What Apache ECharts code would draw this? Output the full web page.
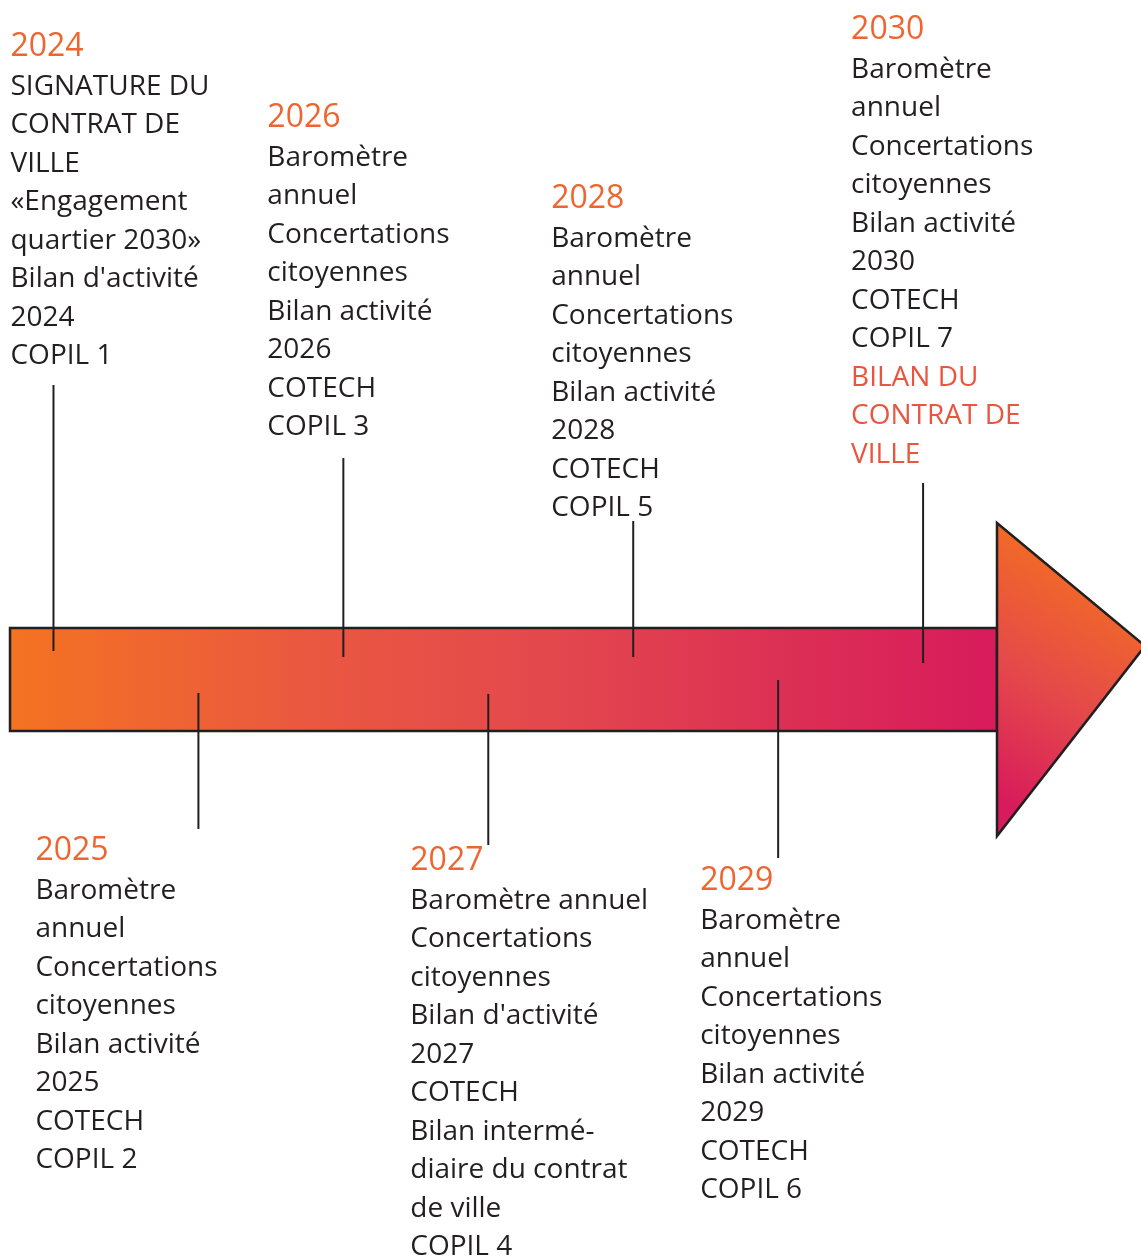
<!DOCTYPE html>
<html>
<head>
<meta charset="utf-8">
<script src="https://cdn.jsdelivr.net/npm/echarts@6/dist/echarts.min.js"></script>
<style>html,body{margin:0;padding:0;background:#ffffff}#chart{width:1141px;height:1256px}</style>
</head>
<body>
<div id="chart"></div>
<script>
// ---------- DATA ----------
const years = [2024, 2025, 2026, 2027, 2028, 2029, 2030];
const items2024 = ['SIGNATURE DU', 'CONTRAT DE', 'VILLE', '«Engagement', 'quartier 2030»', "Bilan d'activité", '2024', 'COPIL 1'];
const items2025 = ['Baromètre', 'annuel', 'Concertations', 'citoyennes', 'Bilan activité', '2025', 'COTECH', 'COPIL 2'];
const items2026 = ['Baromètre', 'annuel', 'Concertations', 'citoyennes', 'Bilan activité', '2026', 'COTECH', 'COPIL 3'];
const items2027 = ['Baromètre annuel', 'Concertations', 'citoyennes', "Bilan d'activité", '2027', 'COTECH', 'Bilan intermé-', 'diaire du contrat', 'de ville', 'COPIL 4'];
const items2028 = ['Baromètre', 'annuel', 'Concertations', 'citoyennes', 'Bilan activité', '2028', 'COTECH', 'COPIL 5'];
const items2029 = ['Baromètre', 'annuel', 'Concertations', 'citoyennes', 'Bilan activité', '2029', 'COTECH', 'COPIL 6'];
const items2030 = ['Baromètre', 'annuel', 'Concertations', 'citoyennes', 'Bilan activité', '2030', 'COTECH', 'COPIL 7'];
const highlight2030 = ['BILAN DU', 'CONTRAT DE', 'VILLE'];

const itemsByYear = [items2024, items2025, items2026, items2027, items2028, items2029, items2030];
const highlightsByYear = [[], [], [], [], [], [], highlight2030];

// ---------- LAYOUT / STYLE (not data) ----------
const FONT = '"Open Sans", "Noto Sans", sans-serif';
const COLORS = { text: '#231f20', year: '#ee6530', highlight: '#e9553f', stroke: '#231f20' };
const LAYOUT = {
  textDx:   [-43, -163, -76, -78, -82, -78, -72],     // text block left offset from its year anchor
  titleY:   [47, 851, 118, 861, 199, 881, 30],         // centre of the year title line
  leader:   [[385, 651], [693, 829], [458, 657], [694, 845], [521, 657], [680, 858], [483, 663]],
  titleGap: 40, lineGap: 38.5, bodySize: 28, titleSize: 32
};

const chart = echarts.init(document.getElementById('chart'), null, { renderer: 'canvas' });

function renderArrow(params, api) {
  const cs = params.coordSys;
  const barGrad = new echarts.graphic.LinearGradient(0, 0, 1, 0, [
    { offset: 0, color: '#f47321' },
    { offset: 0.3, color: '#ea5840' },
    { offset: 0.55, color: '#e3484d' },
    { offset: 0.8, color: '#dc2e55' },
    { offset: 1, color: '#d81b5c' }
  ]);
  const headGrad = new echarts.graphic.LinearGradient(0.9, 0.25, 0.1, 0.9, [
    { offset: 0, color: '#f26a27' },
    { offset: 0.5, color: '#e4494a' },
    { offset: 1, color: '#d81b5c' }
  ]);
  const right = cs.x + cs.width;
  return {
    type: 'group',
    children: [
      { type: 'rect', shape: { x: cs.x, y: cs.y, width: cs.width, height: cs.height },
        style: { fill: barGrad, stroke: COLORS.stroke, lineWidth: 2.5 } },
      { type: 'polygon', shape: { points: [[right, cs.y - 105], [right + 148, cs.y + 18], [right, cs.y + cs.height + 105]] },
        style: { fill: headGrad, stroke: COLORS.stroke, lineWidth: 2.5 } }
    ]
  };
}

function renderEvent(params, api) {
  const i = params.dataIndex;
  const x = api.coord([api.value(0), 0.5])[0];
  const tx = x + LAYOUT.textDx[i];
  const children = [];
  const ld = LAYOUT.leader[i];
  children.push({ type: 'line', shape: { x1: x, y1: ld[0], x2: x, y2: ld[1] },
    style: { stroke: COLORS.stroke, lineWidth: 2 } });
  const ty = LAYOUT.titleY[i];
  children.push({ type: 'text', style: { text: String(years[i]), x: tx, y: ty, fill: COLORS.year,
    font: 'normal ' + LAYOUT.titleSize + 'px ' + FONT, align: 'left', verticalAlign: 'middle' } });
  const lines = itemsByYear[i];
  lines.forEach((t, k) => {
    children.push({ type: 'text', style: { text: t, x: tx, y: ty + LAYOUT.titleGap + k * LAYOUT.lineGap,
      fill: COLORS.text, font: 'normal ' + LAYOUT.bodySize + 'px ' + FONT, align: 'left', verticalAlign: 'middle' } });
  });
  highlightsByYear[i].forEach((t, k) => {
    children.push({ type: 'text', style: { text: t, x: tx,
      y: ty + LAYOUT.titleGap + (lines.length + k) * LAYOUT.lineGap,
      fill: COLORS.highlight, font: 'normal ' + LAYOUT.bodySize + 'px ' + FONT, align: 'left', verticalAlign: 'middle' } });
  });
  return { type: 'group', children };
}

chart.setOption({
  animation: false,
  backgroundColor: '#ffffff',
  grid: { left: 10, right: 144, top: 628, bottom: 525, show: false },
  xAxis: { type: 'value', min: 2023.7, max: 2030.51, show: false, splitLine: { show: false } },
  yAxis: { type: 'value', min: 0, max: 1, show: false, splitLine: { show: false } },
  series: [
    { type: 'custom', silent: true, clip: false, z: 1, renderItem: renderArrow, data: [[years[0], 0]] },
    { type: 'custom', silent: true, clip: false, z: 2, renderItem: renderEvent, data: years.map((y, i) => [y, i]) }
  ]
});
</script>
</body>
</html>
